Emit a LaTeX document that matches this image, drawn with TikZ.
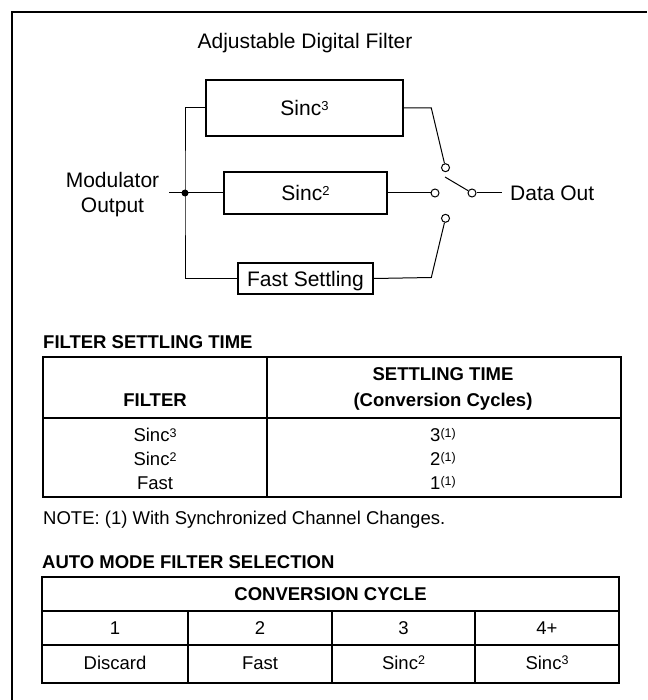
\documentclass[tikz,border=0pt]{standalone}
\usepackage{fontspec}
\setmainfont{Liberation Sans}
\newcommand\dgfont{\fontsize{21}{25}\selectfont}
\newcommand\tbfont{\fontsize{18.5}{22}\selectfont}
\newcommand\supD[1]{\raisebox{4.5pt}{\fontsize{13}{13}\selectfont #1}}
\newcommand\supT[1]{\raisebox{4.5pt}{\fontsize{12.5}{13}\selectfont #1}}
\begin{document}
\begin{tikzpicture}[x=1pt,y=-1pt,
  filt/.style={draw, line width=2pt, font=\dgfont, text height=15pt, text depth=0pt, inner sep=0pt},
  wire/.style={line width=1pt},
  term/.style={circle, draw, line width=1pt, fill=white, minimum size=8pt, inner sep=0pt},
  lbl/.style={font=\dgfont, anchor=base, inner sep=0pt},
  tlbl/.style={font=\tbfont, anchor=base, inner sep=0pt},
  tbold/.style={font=\tbfont\bfseries, anchor=base, inner sep=0pt},
  tline/.style={line width=2pt}]
\useasboundingbox (0,0) rectangle (647,700);
\fill[white] (0,0) rectangle (647,700);
% frame
\draw[line width=2pt] (12,700) -- (12,12) -- (647,12);

% title
\node[lbl] (title) at (305,49) {Adjustable Digital Filter};

% filter boxes
\node[filt, minimum width=197pt, minimum height=56pt] (s3) at (304.5,108) {Sinc\supD{3}};
\node[filt, minimum width=163pt, minimum height=42pt] (s2) at (305.5,193) {Sinc\supD{2}};
\node[filt, minimum width=135pt, minimum height=31pt] (fs) at (305.5,278.5) {Fast Settling};

% input
\node[lbl] (mod1) at (112.5,188) {Modulator};
\node[lbl] (mod2) at (112.5,213) {Output};
\coordinate (in) at (169,193);
\coordinate (bus) at (185,193);
\draw[wire] (s3.west) -| (bus) |- (fs.west);
\draw[wire] (in) -- (s2.west);
\fill (bus) circle (3.5pt);

% switch
\node[term] (c3) at (445.5,167.7) {};
\node[term] (c2) at (435,193) {};
\node[term] (cf) at (445.5,218.3) {};
\node[term] (co) at (472,193) {};
\coordinate (k3) at (431.3,108);
\coordinate (kf) at (431.3,277.5);
\coordinate (arm) at (445,177);
\coordinate (outend) at (502,193);
\draw[wire] (s3.east) -- (k3) -- (c3);
\draw[wire] (fs.east) -- (kf) -- (cf);
\draw[wire] (s2.east) -- (c2);
\draw[wire] (arm) -- (co);
\draw[wire] (co) -- (outend);
\node[lbl, anchor=base west] (dout) at (510,201) {Data Out};

% table 1
\node[tbold, anchor=base west] (t1title) at (43,348) {FILTER SETTLING TIME};
\draw[tline] (43,357) rectangle (621,497);
\draw[tline] (267,357) -- (267,497);
\draw[tline] (43,418) -- (621,418);
\node[tbold] (hfilt) at (155,406.7) {FILTER};
\node[tbold] (hset1) at (443,380) {SETTLING TIME};
\node[tbold] (hset2) at (443,406.7) {(Conversion Cycles)};
\node[tlbl] (r1a) at (155,441.7) {Sinc\supT{3}};
\node[tlbl] (r2a) at (155,465.7) {Sinc\supT{2}};
\node[tlbl] (r3a) at (155,489.5) {Fast};
\node[tlbl] (r1b) at (443,441.7) {3\supT{(1)}};
\node[tlbl] (r2b) at (443,465.7) {2\supT{(1)}};
\node[tlbl] (r3b) at (443,489.5) {1\supT{(1)}};
\node[tlbl, anchor=base west] (note) at (43,524) {NOTE: (1) With Synchronized Channel Changes.};

% table 2
\node[tbold, anchor=base west] (t2title) at (42,568.3) {AUTO MODE FILTER SELECTION};
\draw[tline] (42,577) rectangle (619,683);
\draw[tline] (42,611) -- (619,611);
\draw[tline] (42,645) -- (619,645);
\draw[tline] (188,611) -- (188,683);
\draw[tline] (332,611) -- (332,683);
\draw[tline] (475,611) -- (475,683);
\node[tbold] (cc) at (330.5,600) {CONVERSION CYCLE};
\node[tlbl] (n1) at (115,634) {1};
\node[tlbl] (n2) at (260,634) {2};
\node[tlbl] (n3) at (403.5,634) {3};
\node[tlbl] (n4) at (547,634) {4+};
\node[tlbl] (m1) at (115,669.3) {Discard};
\node[tlbl] (m2) at (260,669.3) {Fast};
\node[tlbl] (m3) at (403.5,669.3) {Sinc\supT{2}};
\node[tlbl] (m4) at (547,669.3) {Sinc\supT{3}};
\end{tikzpicture}
\end{document}
